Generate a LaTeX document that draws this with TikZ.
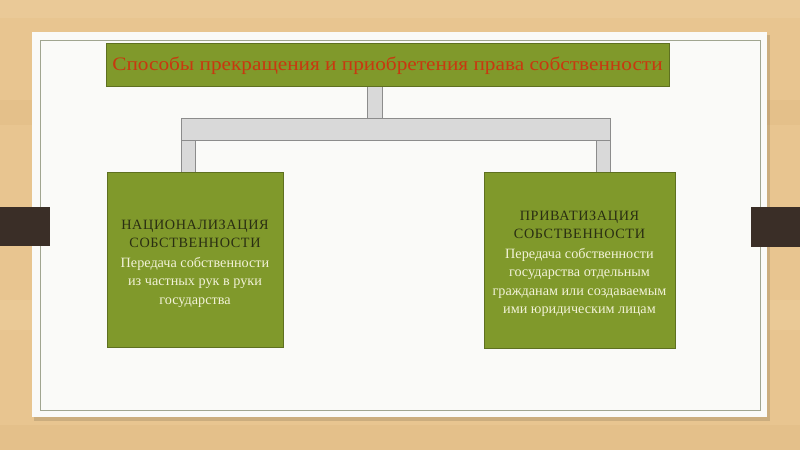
\documentclass[tikz,border=0pt]{standalone}
\usepackage{fontspec}
\setmainfont{Liberation Serif}
\newfontfamily\titlefont[FakeStretch=1.12]{Liberation Serif}
\newfontfamily\capfont[LetterSpace=4.5]{Liberation Serif}
\begin{document}
\begin{tikzpicture}[x=1pt,y=-1pt,
  olivebox/.style={draw=olivedark,line width=0.8pt,fill=olive},
  graybar/.style={draw=barline,line width=0.8pt,fill=bargray},
  captxt/.style={text=capdark,font=\capfont\fontsize{14.2}{18.5}\selectfont,align=center},
  bodytxt/.style={text=bodylight,font=\fontsize{14.2}{18.5}\selectfont,align=center}]
\definecolor{wood}{HTML}{E8C590}
\definecolor{woodlight}{HTML}{F0D3A6}
\definecolor{wooddark}{HTML}{DDB67E}
\definecolor{paper}{HTML}{FAFAF8}
\definecolor{innerline}{HTML}{A0A590}
\definecolor{tab}{HTML}{3A2E27}
\definecolor{olive}{HTML}{80992B}
\definecolor{olivedark}{HTML}{5E7020}
\definecolor{bargray}{HTML}{D9D9D9}
\definecolor{barline}{HTML}{8C8C8C}
\definecolor{titlered}{HTML}{C8380F}
\definecolor{capdark}{HTML}{2A2E12}
\definecolor{bodylight}{HTML}{F2F2D8}
\useasboundingbox (0,0) rectangle (800,450);
% wood background
\fill[wood] (0,0) rectangle (800,450);
\fill[woodlight,opacity=0.35] (0,0) rectangle (800,18);
\fill[wooddark,opacity=0.3] (0,100) rectangle (800,125);
\fill[woodlight,opacity=0.3] (0,300) rectangle (800,330);
\fill[wooddark,opacity=0.3] (0,425) rectangle (800,450);
% shadow and paper
\fill[black,opacity=0.12] (34,35) rectangle (770,421);
\fill[paper] (32,32) rectangle (767,417);
\draw[innerline,line width=0.8pt] (40,40) rectangle (760,410);
% tabs
\fill[tab] (0,207) rectangle (50,246);
\fill[tab] (751,207) rectangle (800,247);
% gray connectors
\node[graybar,minimum width=15pt,minimum height=32pt,inner sep=0pt] (stubtop) at (374.5,102) {};
\node[graybar,minimum width=429pt,minimum height=22pt,inner sep=0pt] (bar) at (395.5,129) {};
\node[graybar,minimum width=14pt,minimum height=33pt,inner sep=0pt] (stubl) at (188,156.5) {};
\node[graybar,minimum width=14pt,minimum height=33pt,inner sep=0pt] (stubr) at (603,156.5) {};
% title
\node[olivebox,minimum width=563pt,minimum height=43pt,inner sep=0pt] (title) at (387.5,64.5) {};
\node[text=titlered,font=\titlefont\fontsize{19}{22}\selectfont] (titletxt) at ([yshift=-1pt]title.center) {Способы прекращения и приобретения права собственности};
% left box
\node[olivebox,minimum width=176pt,minimum height=175pt,inner sep=0pt] (left) at (195,260) {};
\node[captxt,anchor=north] (lcap) at (195,216.5) {НАЦИОНАЛИЗАЦИЯ\\СОБСТВЕННОСТИ};
\node[bodytxt,anchor=north] (lbody) at (195,253.5) {Передача собственности\\из частных рук в руки\\государства};
% right box
\node[olivebox,minimum width=191pt,minimum height=176pt,inner sep=0pt] (right) at (579.5,260) {};
\node[captxt,anchor=north] (rcap) at (579.5,207.5) {ПРИВАТИЗАЦИЯ\\СОБСТВЕННОСТИ};
\node[bodytxt,anchor=north] (rbody) at (579.5,244.5) {Передача собственности\\государства отдельным\\гражданам или создаваемым\\ими юридическим лицам};
\end{tikzpicture}
\end{document}
